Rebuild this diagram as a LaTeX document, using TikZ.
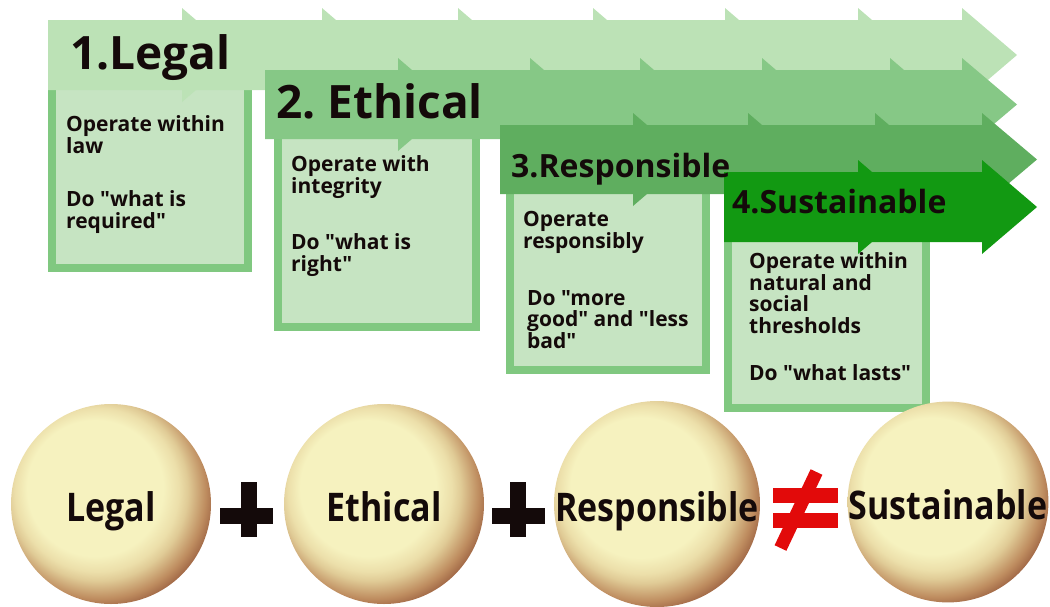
\documentclass[tikz,border=0pt]{standalone}
\usepackage{fontspec}
\setmainfont{Open Sans}[Ligatures=TeXOff]
\usepackage{xcolor}
\usepackage{graphicx}
\usepackage{tikz}
\frenchspacing

\definecolor{legalgreen}{HTML}{BCE2B6}
\definecolor{ethicgreen}{HTML}{86C886}
\definecolor{respgreen}{HTML}{5FAE5F}
\definecolor{sustgreen}{HTML}{129912}
\definecolor{boxfill}{HTML}{C6E4C2}
\definecolor{boxedge}{HTML}{80C880}
\definecolor{ballcream}{HTML}{F6F2BF}
\definecolor{balllight}{HTML}{ECDFAA}
\definecolor{balltan}{HTML}{E0CB96}
\definecolor{ballmid}{HTML}{BE8C5F}
\definecolor{ballrim}{HTML}{9C6242}
\definecolor{neqred}{HTML}{E20A0A}
\definecolor{ink}{HTML}{140A0A}

\pgfdeclareradialshading{button}{\pgfpoint{-6bp}{6bp}}{%
  color(0bp)=(ballcream); color(17bp)=(ballcream); color(20.5bp)=(balllight);
  color(22.5bp)=(balltan); color(26.5bp)=(ballmid); color(29bp)=(ballrim);
  color(50bp)=(ballrim)}

% colour, start, top, bottom, head base, bumps
\newcommand{\stageband}[6]{%
  \fill[#1] (#2,#3) -- (#5,#3) -- (#5,#3-12) -- (#5+55,{(#3+#4)/2})
        -- (#5,#4+12) -- (#5,#4) -- (#2,#4) -- cycle;
  \foreach \bx in {#6} {
    \fill[#1] (\bx,#3) -- (\bx,#3-12) -- (\bx+14,#3) -- cycle;
    \fill[#1] (\bx,#4) -- (\bx,#4+12) -- (\bx+14,#4) -- cycle;
  }
}
\newcommand{\tall}[1]{\scalebox{1}[1.16]{#1}}

\begin{document}
\begin{tikzpicture}[x=1pt,y=-1pt,
    stagebox/.style={fill=boxfill, draw=boxedge, line width=8pt},
    title/.style={anchor=base west, inner sep=0pt, text=ink},
    boxtext/.style={anchor=base west, inner sep=0pt, align=left, text=ink,
      font=\fontsize{21}{21.5}\selectfont\bfseries},
    ball/.style={circle, minimum size=200pt, inner sep=0pt, shading=button,
      text=ink, text height=34pt, text depth=0pt,
      font=\fontsize{34}{34}\selectfont\bfseries},
    plusbar/.style={ink, line width=16pt},
    neqbar/.style={neqred, line width=15pt}]
  \useasboundingbox (0,0) rectangle (1050,606);

  % boxes under the bands
  \draw[stagebox] (52,80) rectangle (248,268);
  \draw[stagebox] (278,130) rectangle (476,327);
  \draw[stagebox] (510,185) rectangle (706,370);
  \draw[stagebox] (728,233) rectangle (926,408);

  % bands
  \stageband{legalgreen}{48}{20}{90}{962}{182,322,458,593,725,858}
  \stageband{ethicgreen}{265}{70}{139}{962}{398,530,640,762,890}
  \stageband{respgreen}{500}{125}{194}{982}{633,748,875}
  \stageband{sustgreen}{724}{172}{242}{982}{858}

  % titles
  \node[title, font=\fontsize{46}{46}\selectfont\bfseries] (t1) at (70,69) {1.Legal};
  \node[title, font=\fontsize{46}{46}\selectfont\bfseries] (t2) at (276,118) {2. Ethical};
  \node[title, font=\fontsize{32}{32}\selectfont\bfseries] (t3) at (511,177) {3.Responsible};
  \node[title, font=\fontsize{32}{32}\selectfont\bfseries] (t4) at (732,213) {4.Sustainable};

  % box texts (placed at the last line)
  \node[boxtext] (op1) at (66,153) {Operate within\\law};
  \node[boxtext] (do1) at (66,228) {Do "what is\\required"};
  \node[boxtext] (op2) at (291,193) {Operate with\\integrity};
  \node[boxtext] (do2) at (291,271) {Do "what is\\right"};
  \node[boxtext] (op3) at (523,248) {Operate\\responsibly};
  \node[boxtext] (do3) at (527,348) {Do "more\\good" and "less\\bad"};
  \node[boxtext] (op4) at (749,333) {Operate within\\natural and\\social\\thresholds};
  \node[boxtext] (do4) at (749,380) {Do "what lasts"};

  % bottom row
  \node[ball] (c1) at (111,504) {\tall{Legal}};
  \node[ball] (c2) at (384,504) {\tall{Ethical}};
  \node[ball] (c3) at (657,504) {\tall{Responsible}};
  \node[ball] (c4) at (948,502) {\tall{Sustainable}};

  \draw[plusbar] (220,516) -- (273,516);
  \draw[plusbar] (249,482) -- (249,537);
  \draw[plusbar] (492,516) -- (545,516);
  \draw[plusbar] (518,482) -- (518,537);

  \draw[neqbar] (773,495.5) -- (838,495.5);
  \draw[neqbar] (773,520.5) -- (838,520.5);
  \draw[neqbar, line width=13pt] (816.5,472) -- (780.5,548);
\end{tikzpicture}
\end{document}
